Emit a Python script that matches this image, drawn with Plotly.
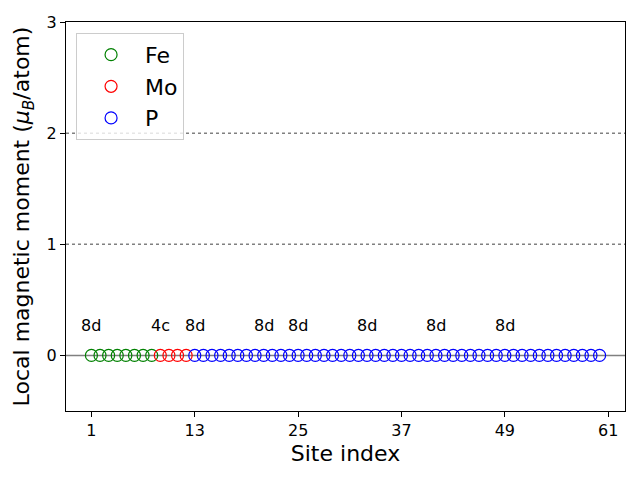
import plotly.graph_objects as go

# Data
fe_sites = [1, 2, 3, 4, 5, 6, 7, 8]
fe_moments = [0.0, 0.0, 0.0, 0.0, 0.0, 0.0, 0.0, 0.0]
mo_sites = [9, 10, 11, 12]
mo_moments = [0.0, 0.0, 0.0, 0.0]
p_sites = [13, 14, 15, 16, 17, 18, 19, 20, 21, 22, 23, 24, 25, 26, 27, 28,
           29, 30, 31, 32, 33, 34, 35, 36, 37, 38, 39, 40, 41, 42, 43, 44,
           45, 46, 47, 48, 49, 50, 51, 52, 53, 54, 55, 56, 57, 58, 59, 60]
p_moments = [0.0, 0.0, 0.0, 0.0, 0.0, 0.0, 0.0, 0.0, 0.0, 0.0, 0.0, 0.0,
             0.0, 0.0, 0.0, 0.0, 0.0, 0.0, 0.0, 0.0, 0.0, 0.0, 0.0, 0.0,
             0.0, 0.0, 0.0, 0.0, 0.0, 0.0, 0.0, 0.0, 0.0, 0.0, 0.0, 0.0,
             0.0, 0.0, 0.0, 0.0, 0.0, 0.0, 0.0, 0.0, 0.0, 0.0, 0.0, 0.0]
wyckoff_sites = [1, 9, 13, 21, 25, 33, 41, 49]
wyckoff_labels = ["8d", "4c", "8d", "8d", "8d", "8d", "8d", "8d"]
wyckoff_y = 0.2
ref_lines_dotted = [1, 2]
x_ticks = [1, 13, 25, 37, 49, 61]
y_ticks = [0, 1, 2, 3]

FONT = "DejaVu Sans"
fig = go.Figure()

series = [("Fe", fe_sites, fe_moments, "green"),
          ("Mo", mo_sites, mo_moments, "red"),
          ("P", p_sites, p_moments, "blue")]
for name, xs, ys, col in series:
    fig.add_trace(go.Scatter(
        x=xs, y=ys, mode="markers", name=name,
        marker=dict(symbol="circle-open", size=12, color=col, line=dict(width=1.2, color=col)),
    ))

# reference lines
fig.add_hline(y=0, line=dict(color="gray", width=1.5), layer="below")
for yv in ref_lines_dotted:
    fig.add_hline(y=yv, line=dict(color="gray", width=1.5, dash="dot"), layer="below")

for xs, lab in zip(wyckoff_sites, wyckoff_labels):
    fig.add_annotation(x=xs, y=wyckoff_y, text=lab, showarrow=False,
                       xanchor="center", yanchor="bottom", yshift=-4,
                       font=dict(family=FONT, size=16, color="black"))

axis_common = dict(showline=True, linecolor="black", linewidth=1, mirror=True,
                   ticks="outside", ticklen=5, tickwidth=1, tickcolor="black",
                   showgrid=False, zeroline=False,
                   tickfont=dict(family=FONT, size=16, color="black"))

fig.update_layout(
    width=640, height=480,
    margin=dict(l=66, r=15, t=22, b=69),
    plot_bgcolor="white", paper_bgcolor="white",
    font=dict(family=FONT, color="black"),
    xaxis=dict(range=[-1.95, 62.95], tickvals=x_ticks,
               title=dict(text="Site index", font=dict(family=FONT, size=22), standoff=6),
               **axis_common),
    yaxis=dict(range=[-0.5, 3], tickvals=y_ticks,
               title=dict(text="Local magnetic moment (<i>μ</i><sub><i>B</i></sub>/atom)",
                          font=dict(family=FONT, size=22), standoff=10),
               **axis_common),
    legend=dict(x=0.018, y=0.972, xanchor="left", yanchor="top",
                bgcolor="rgba(255,255,255,0.8)", bordercolor="#cccccc", borderwidth=1,
                font=dict(family=FONT, size=22, color="black"),
                itemwidth=58),
    showlegend=True,
)

fig.write_html("out.html")
